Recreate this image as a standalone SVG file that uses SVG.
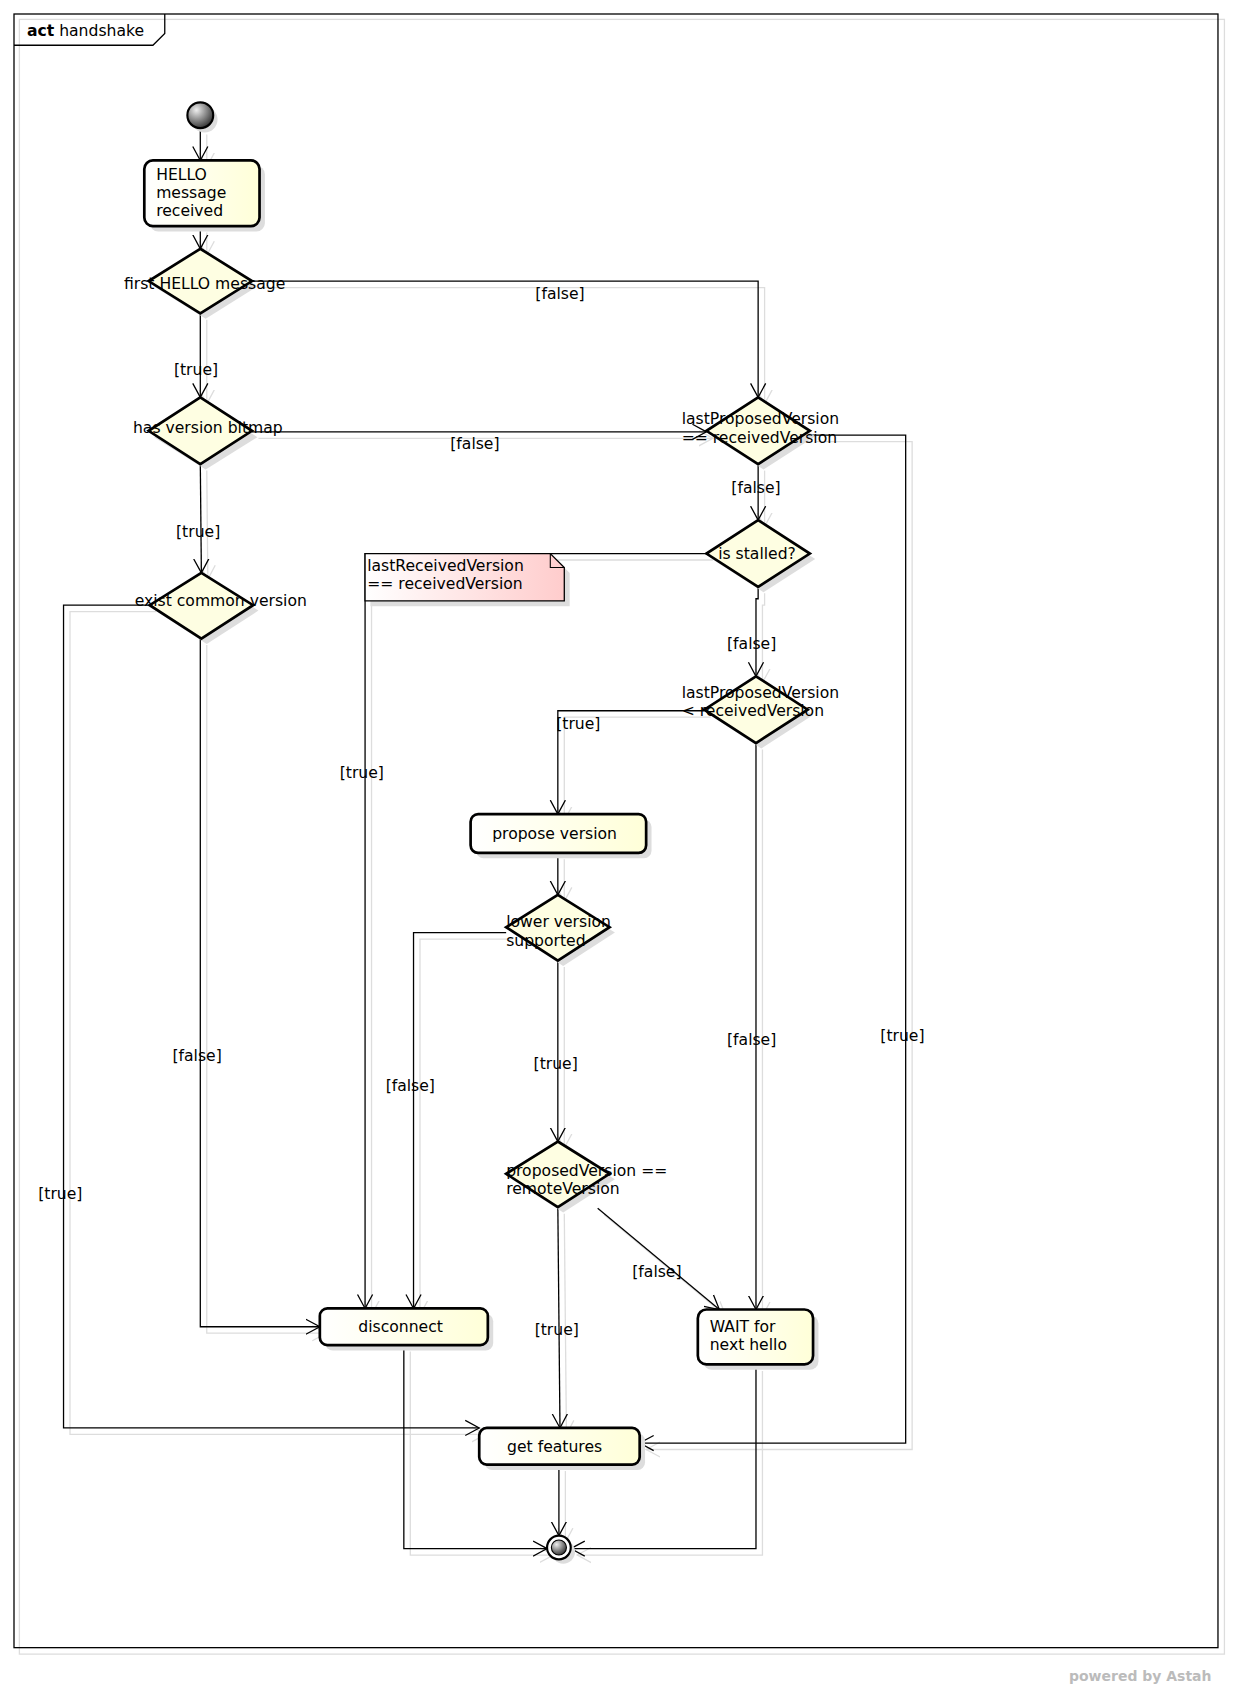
<svg xmlns="http://www.w3.org/2000/svg" xmlns:xlink="http://www.w3.org/1999/xlink" width="1233" height="1692" viewBox="0 0 1233 1692">
<style>
text{font-family:"DejaVu Sans","Liberation Sans",sans-serif;font-size:14.5px;fill:#000}
.lbl{text-anchor:middle}
.node{fill:url(#yg);stroke:#000;stroke-width:2.5}
.dia{fill:#fefee2;stroke:#000;stroke-width:2.5}
.sh{fill:#ddd;stroke:none}
.c{fill:none;stroke:#000;stroke-width:1.2}
</style>
<defs>
<linearGradient id="yg" x1="0" y1="0" x2="1" y2="0"><stop offset="0" stop-color="#ffffff"/><stop offset="1" stop-color="#ffffd8"/></linearGradient>
<linearGradient id="pg" x1="0" y1="0" x2="1" y2="0"><stop offset="0" stop-color="#ffffff"/><stop offset="1" stop-color="#ffcccc"/></linearGradient>
<radialGradient id="ball" cx="0.35" cy="0.3" r="0.8"><stop offset="0" stop-color="#eee"/><stop offset="1" stop-color="#222"/></radialGradient>
<marker id="ar" markerUnits="userSpaceOnUse" markerWidth="16" markerHeight="16" refX="13" refY="7" orient="auto" viewBox="0 0 16 14"><path d="M0,0 L13,7 L0,14" fill="none" stroke="context-stroke" stroke-width="1.2"/></marker>
<g id="conns">
<path d="M186,119 V149"/>
<path d="M186,210 V231"/>
<path d="M186,291 V369"/>
<path d="M234,261 H704 V369"/>
<path d="M234,401 H656"/>
<path d="M186,431 L187,532"/>
<path d="M752,404 H841 V1340 H594"/>
<path d="M704,431 V483"/>
<path d="M656,514 H339 V1215"/>
<path d="M704,545 V556 H702 V628"/>
<path d="M654,660 H518 V756"/>
<path d="M702,690 V1216"/>
<path d="M518,792 V831"/>
<path d="M470,866 H384 V1215"/>
<path d="M518,892 V1060"/>
<path d="M518,1121 L520,1326"/>
<path d="M555,1122 L668,1216"/>
<path d="M186,593 V1232 H297"/>
<path d="M139,562 H59 V1326 H445"/>
<path d="M375,1249 V1438 H508"/>
<path d="M519,1360 V1426"/>
<path d="M702,1267 V1438 H530"/>
</g>
</defs>
<rect width="1233" height="1692" fill="#fff"/>
<g transform="scale(1.0769)">
<g id="frame">
<rect x="18" y="18" width="1119" height="1518" fill="none" stroke="#ddd" stroke-width="1.2"/>
<rect x="13" y="13" width="1118" height="1517" fill="none" stroke="#000" stroke-width="1.2"/>
<path d="M13,42 H142 L153,31 V13" fill="none" stroke="#000" stroke-width="1.2"/>
<text x="25" y="33"><tspan font-weight="bold">act</tspan> handshake</text>
</g>
<g id="connectors">
<use xlink:href="#conns" transform="translate(6,6)" stroke="#ddd" fill="none" stroke-width="1.2" marker-end="url(#ar)" style="marker-end:url(#ar)"/>
<g class="c" stroke="#000">
<path d="M186,119 V149" marker-end="url(#ar)"/>
<path d="M186,210 V231" marker-end="url(#ar)"/>
<path d="M186,291 V369" marker-end="url(#ar)"/>
<path d="M234,261 H704 V369" marker-end="url(#ar)"/>
<path d="M234,401 H656" marker-end="url(#ar)"/>
<path d="M186,431 L187,532" marker-end="url(#ar)"/>
<path d="M752,404 H841 V1340 H594" marker-end="url(#ar)"/>
<path d="M704,431 V483" marker-end="url(#ar)"/>
<path d="M656,514 H339 V1215" marker-end="url(#ar)"/>
<path d="M704,545 V556 H702 V628" marker-end="url(#ar)"/>
<path d="M654,660 H518 V756" marker-end="url(#ar)"/>
<path d="M702,690 V1216" marker-end="url(#ar)"/>
<path d="M518,792 V831" marker-end="url(#ar)"/>
<path d="M470,866 H384 V1215" marker-end="url(#ar)"/>
<path d="M518,892 V1060" marker-end="url(#ar)"/>
<path d="M518,1121 L520,1326" marker-end="url(#ar)"/>
<path d="M555,1122 L668,1216" marker-end="url(#ar)"/>
<path d="M186,593 V1232 H297" marker-end="url(#ar)"/>
<path d="M139,562 H59 V1326 H445" marker-end="url(#ar)"/>
<path d="M375,1249 V1438 H508" marker-end="url(#ar)"/>
<path d="M519,1360 V1426" marker-end="url(#ar)"/>
<path d="M702,1267 V1438 H530" marker-end="url(#ar)"/>
</g>
<g class="lbl">
<text x="182" y="348">[true]</text>
<text x="520" y="278">[false]</text>
<text x="441" y="417">[false]</text>
<text x="184" y="499">[true]</text>
<text x="838" y="967">[true]</text>
<text x="702" y="458">[false]</text>
<text x="336" y="722">[true]</text>
<text x="698" y="603">[false]</text>
<text x="537" y="677">[true]</text>
<text x="698" y="970">[false]</text>
<text x="381" y="1013">[false]</text>
<text x="516" y="993">[true]</text>
<text x="517" y="1240">[true]</text>
<text x="610" y="1186">[false]</text>
<text x="183" y="985">[false]</text>
<text x="56" y="1113">[true]</text>
</g>
</g>
<g id="start"><circle cx="190" cy="111" r="12" class="sh"/><circle cx="186" cy="107" r="12" fill="url(#ball)" stroke="#000" stroke-width="2"/></g>
<g id="hello"><rect x="139" y="154" width="107" height="61" rx="8" class="sh"/><rect x="134" y="149" width="107" height="61" rx="8" class="node"/><text x="145" y="167">HELLO</text><text x="145" y="184">message</text><text x="145" y="201">received</text></g>
<g id="d1"><path d="M191,236 L239,266 L191,296 L143,266Z" class="sh"/><path d="M186,231 L234,261 L186,291 L138,261Z" class="dia"/><text class="lbl" x="190" y="268">first HELLO message</text></g>
<g id="d2"><path d="M191,375 L239,406 L191,436 L143,406Z" class="sh"/><path d="M186,369 L234,400 L186,431 L138,400Z" class="dia"/><text class="lbl" x="193" y="402">has version bitmap</text></g>
<g id="d3"><path d="M192,537 L240,567 L192,598 L144,567Z" class="sh"/><path d="M187,532 L235,562 L187,593 L139,562Z" class="dia"/><text class="lbl" x="205" y="563">exist common version</text></g>
<g id="d4"><path d="M709,374 L757,405 L709,436 L661,405Z" class="sh"/><path d="M704,369 L752,400 L704,431 L656,400Z" class="dia"/><text x="633" y="394">lastProposedVersion</text><text x="633" y="411">== receivedVersion</text></g>
<g id="d5"><path d="M709,488 L757,519 L709,550 L661,519Z" class="sh"/><path d="M704,483 L752,514 L704,545 L656,514Z" class="dia"/><text class="lbl" x="703" y="519">is stalled?</text></g>
<g id="d6"><path d="M707,633 L755,664 L707,695 L659,664Z" class="sh"/><path d="M702,628 L750,659 L702,690 L654,659Z" class="dia"/><text x="633" y="648">lastProposedVersion</text><text x="633" y="665">&lt; receivedVersion</text></g>
<g id="note"><path d="M344,519 H516 L529,532 V563 H344Z" class="sh"/><path d="M339,514 H511 L524,527 V558 H339Z" fill="url(#pg)" stroke="#000" stroke-width="1.2"/><path d="M511,514 V527 H524" fill="none" stroke="#000" stroke-width="1"/><text x="341" y="530">lastReceivedVersion</text><text x="341" y="547">== receivedVersion</text></g>
<g id="propose"><rect x="442" y="761" width="163" height="36" rx="7" class="sh"/><rect x="437" y="756" width="163" height="36" rx="7" class="node"/><text class="lbl" x="515" y="779">propose version</text></g>
<g id="d7"><path d="M523,836 L571,866 L523,897 L475,866Z" class="sh"/><path d="M518,831 L566,861 L518,892 L470,861Z" class="dia"/><text x="470" y="861">lower version</text><text x="470" y="878">supported</text></g>
<g id="d8"><path d="M523,1065 L571,1095 L523,1126 L475,1095Z" class="sh"/><path d="M518,1060 L566,1090 L518,1121 L470,1090Z" class="dia"/><text x="470" y="1092">proposedVersion ==</text><text x="470" y="1109">remoteVersion</text></g>
<g id="disconnect"><rect x="302" y="1220" width="156" height="34" rx="7" class="sh"/><rect x="297" y="1215" width="156" height="34" rx="7" class="node"/><text class="lbl" x="372" y="1237">disconnect</text></g>
<g id="wait"><rect x="653" y="1221" width="107" height="51" rx="8" class="sh"/><rect x="648" y="1216" width="107" height="51" rx="8" class="node"/><text x="659" y="1237">WAIT for</text><text x="659" y="1254">next hello</text></g>
<g id="getfeatures"><rect x="450" y="1331" width="149" height="34" rx="7" class="sh"/><rect x="445" y="1326" width="149" height="34" rx="7" class="node"/><text class="lbl" x="515" y="1348">get features</text></g>
<g id="end"><circle cx="523" cy="1441" r="11" class="sh"/><circle cx="519" cy="1437" r="11" fill="#fff" stroke="#000" stroke-width="2"/><circle cx="519" cy="1437" r="7" fill="url(#ball)" stroke="#000" stroke-width="1"/></g>
<text x="1125" y="1561" text-anchor="end" style="fill:#bbb;font-size:13px;font-weight:bold">powered by Astah</text>
</g>
</svg>
